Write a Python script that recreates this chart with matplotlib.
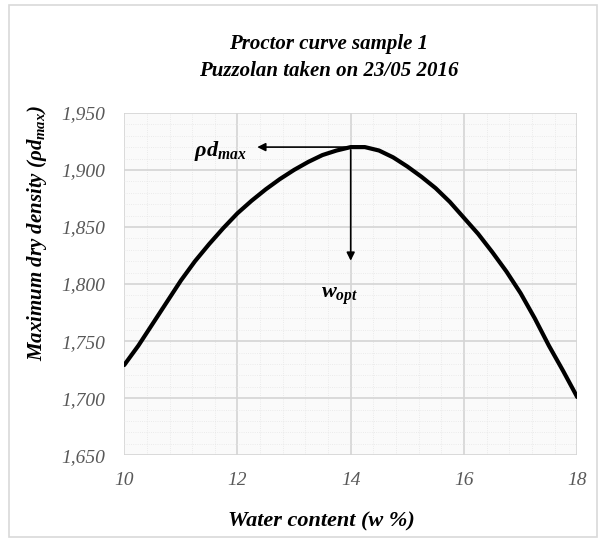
import matplotlib
matplotlib.use("Agg")
import matplotlib.pyplot as plt
from matplotlib.ticker import MultipleLocator, FuncFormatter
from matplotlib.patches import Rectangle

# values
water_content = [10, 10.25, 10.5, 10.75, 11, 11.25, 11.5, 11.75, 12, 12.25, 12.5, 12.75, 13,
                 13.25, 13.5, 13.75, 14, 14.25, 14.5, 14.75, 15, 15.25, 15.5, 15.75, 16,
                 16.25, 16.5, 16.75, 17, 17.25, 17.5, 17.75, 18]
dry_density = [1.729, 1.746, 1.765, 1.784, 1.803, 1.820, 1.835, 1.849, 1.862, 1.873, 1.883,
               1.892, 1.900, 1.907, 1.913, 1.917, 1.920, 1.920, 1.917, 1.911, 1.903, 1.894,
               1.884, 1.872, 1.858, 1.844, 1.828, 1.811, 1.792, 1.770, 1.746, 1.724, 1.701]
x_ticks = [10, 12, 14, 16, 18]
y_ticks = [1.65, 1.70, 1.75, 1.80, 1.85, 1.90, 1.95]
w_opt = 14.0
rho_max = 1.920

font = 'Liberation Serif'
plt.rcParams['mathtext.fontset'] = 'custom'
plt.rcParams['mathtext.it'] = 'Liberation Serif:italic:bold'
plt.rcParams['mathtext.rm'] = 'Liberation Serif:bold'
plt.rcParams['mathtext.bf'] = 'Liberation Serif:bold'

fig = plt.figure(figsize=(6, 5.4), dpi=100)
fig.patches.append(Rectangle((0.015, 0.005), 0.98, 0.985, transform=fig.transFigure,
                             fill=False, edgecolor='#d9d9d9', lw=1.2))
ax = fig.add_axes([0.207, 0.157, 0.755, 0.634])
ax.set_facecolor('#fafafa')

ax.plot(water_content, dry_density, color='black', lw=3, solid_capstyle='round',
        solid_joinstyle='round', zorder=3)

# arrows to the axes
ax.annotate('', xy=(12.3, rho_max), xytext=(w_opt, rho_max),
            arrowprops=dict(arrowstyle='-|>', color='black', lw=1.2, mutation_scale=12), zorder=4)
ax.annotate('', xy=(w_opt, 1.818), xytext=(w_opt, rho_max),
            arrowprops=dict(arrowstyle='-|>', color='black', lw=1.2, mutation_scale=12), zorder=4)
ax.text(12.15, 1.917, r'$\rho d_{max}$', ha='right', va='center', fontsize=16,
        family=font, weight='bold', style='italic')
ax.text(13.8, 1.789, r'$w_{opt}$', ha='center', va='center', fontsize=16,
        family=font, weight='bold', style='italic')

ax.set_xlim(10, 18)
ax.set_ylim(1.65, 1.95)
ax.set_xticks(x_ticks)
ax.set_yticks(y_ticks)
ax.yaxis.set_major_formatter(FuncFormatter(lambda v, p: f"{v:.3f}".replace('.', ',')))
ax.xaxis.set_minor_locator(MultipleLocator(0.4))
ax.yaxis.set_minor_locator(MultipleLocator(0.01))
ax.grid(which='major', color='#d4d4d4', lw=1.2)
ax.grid(which='minor', color='#e6e6e6', lw=0.6, ls=':')
ax.set_axisbelow(True)
for s in ax.spines.values():
    s.set_visible(False)
ax.tick_params(which='both', length=0)
ax.tick_params(axis='x', pad=12)
ax.tick_params(axis='y', pad=14)
for lab in ax.get_xticklabels() + ax.get_yticklabels():
    lab.set_family(font)
    lab.set_style('italic')
    lab.set_fontsize(14)
    lab.set_color('#595959')

ax.set_xlabel('Water content (w %)', family=font, style='italic', weight='bold', fontsize=16)
ax.xaxis.set_label_coords(0.435, -0.165)
ax.set_ylabel(r'Maximum dry density ($\rho d_{max}$)', family=font, style='italic',
              weight='bold', fontsize=15)
ax.yaxis.set_label_coords(-0.165, 0.65)

fig.text(0.548, 0.894, 'Proctor curve sample 1\nPuzzolan taken on 23/05 2016', ha='center',
         va='center', family=font, style='italic', weight='bold', fontsize=15, linespacing=1.45)

fig.savefig('out.png', dpi=100)
